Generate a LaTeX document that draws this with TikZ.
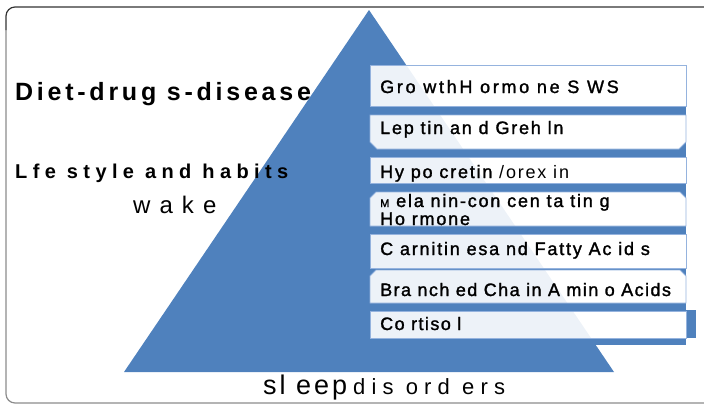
\documentclass[tikz,border=0pt]{standalone}
\usepackage{fontspec}
\setmainfont{Liberation Sans}
\definecolor{triblue}{RGB}{79,129,189}
\definecolor{boxline}{RGB}{149,179,222}
\newcommand\lsp[2]{{\addfontfeatures{LetterSpace=#1}#2}}
\newcommand\fsz[1]{\fontsize{#1}{#1}\selectfont}
\newcommand\bxA{(370,65) rectangle (686,106)}
\newcommand\bxB{(370,115) -- (686,115) -- (686,142) -- (679,149) -- (377,149) -- (370,142) -- cycle}
\newcommand\bxC{(370,157) rectangle (686,183)}
\newcommand\bxD{(370,198) -- (376,192) -- (680,192) -- (686,198) -- (686,226) -- (370,226) -- cycle}
\newcommand\bxE{(370,234) rectangle (686,268)}
\newcommand\bxF{(370,276) -- (376,270) -- (680,270) -- (686,276) -- (686,303) -- (370,303) -- cycle}
\newcommand\bxG{(370,311) rectangle (686,338)}
\newcommand\allboxes{\bxA \bxB \bxC \bxD \bxE \bxF \bxG}
\begin{document}
\begin{tikzpicture}[x=1pt,y=-1pt,
  boxedge/.style={draw=boxline, line width=0.8pt},
  itemtext/.style={anchor=base west, inner sep=0pt, font=\fsz{18}\addfontfeatures{FakeBold=1.5}},
  lefttext/.style={anchor=base west, inner sep=0pt}]
\useasboundingbox (0,0) rectangle (704,405);
% frame
\draw[line width=1.2pt, color=black!45, rounded corners=9pt] (6,30) -- (6,403) -- (704,403);
\draw[line width=1.2pt, color=black!80, rounded corners=9pt] (704,7) -- (6,7) -- (6,30);
% pyramid
\fill[triblue] (369,10) -- (614,372) -- (124,372) -- cycle;
% panel behind the boxes
\fill[triblue] (370,100) rectangle (686,345);
\fill[triblue] (686,310) rectangle (696,338);
% boxes
\fill[white] \allboxes;
\begin{scope}
  \clip (369,10) -- (614,372) -- (124,372) -- cycle;
  \fill[triblue, opacity=0.1] \allboxes;
\end{scope}
\draw[boxedge] \bxA; \draw[boxedge] \bxB; \draw[boxedge] \bxC; \draw[boxedge] \bxD;
\draw[boxedge] \bxE; \draw[boxedge] \bxF; \draw[boxedge] \bxG;
% box texts
\node[itemtext] (t1) at (380,93) {\lsp{15}{Gro wthH ormo ne S WS}};
\node[itemtext] (t2) at (380,134) {\lsp{10}{Lep tin an d Greh ln}};
\node[itemtext] (t3) at (380,178) {\lsp{10}{Hy po cretin {\addfontfeatures{FakeBold=0}/orex in}}};
\node[itemtext] (t4) at (380,207) {\lsp{10}{{\fsz{11}M} ela nin-con cen ta tin g}};
\node[itemtext] (t4b) at (380,225) {\lsp{10}{Ho rmone}};
\node[itemtext] (t5) at (380,255) {\lsp{10}{C arnitin esa nd Fatty Ac id s}};
\node[itemtext] (t6) at (380,296) {\lsp{8}{Bra nch ed Cha in A min o Acids}};
\node[itemtext] (t7) at (380,330) {\lsp{8}{Co rtiso l}};
% left texts
\node[lefttext, font=\fsz{25}\bfseries] (diet) at (15,100) {\lsp{15}{Diet-drug s-disease}};
\node[lefttext, font=\fsz{20}\bfseries] (life) at (15,178) {\lsp{27}{Lfe style and habits}};
\node[lefttext, font=\fsz{24}] (wake) at (133,213) {\lsp{10}{w a k e}};
\node[lefttext] (sleep) at (263,394) {{\fsz{27}\lsp{11}{sl eep}}\hspace{6pt}{\fsz{22}\lsp{28}{dis ord ers}}};
\end{tikzpicture}
\end{document}
